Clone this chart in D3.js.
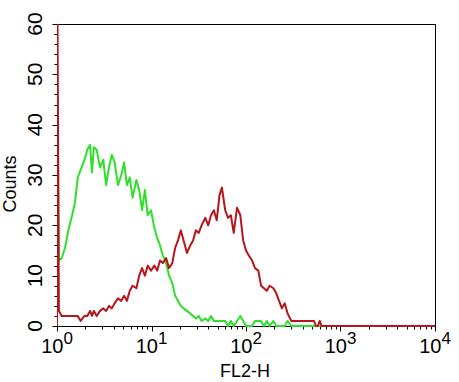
<!DOCTYPE html>
<html>
<head>
<meta charset="utf-8">
<script src="https://cdn.jsdelivr.net/npm/d3@7"></script>
<style>
  html, body { margin: 0; padding: 0; background: #fff; }
  svg { display: block; font-family: "Liberation Sans", Arial, sans-serif; }
</style>
</head>
<body>
<svg id="chart" width="459" height="382"></svg>
<script>
// FL2-H positions, in decades (log10 of FL2-H)
const fl2Decades = [0, 0.005, 0.02, 0.05, 0.085, 0.12, 0.16, 0.19, 0.22, 0.25, 0.29, 0.32, 0.35, 0.37, 0.39, 0.42,
  0.455, 0.49, 0.52, 0.55, 0.58, 0.61, 0.645, 0.68, 0.71, 0.74, 0.77, 0.80, 0.84, 0.87, 0.90, 0.93, 0.96, 0.995,
  1.03, 1.06, 1.09, 1.12, 1.155, 1.185, 1.22, 1.25, 1.28, 1.31, 1.34, 1.375, 1.41, 1.44, 1.47, 1.50, 1.53, 1.57,
  1.60, 1.63, 1.66, 1.69, 1.72, 1.745, 1.78, 1.81, 1.84, 1.87, 1.905, 1.94, 1.97, 2.00, 2.03, 2.065, 2.095, 2.13,
  2.16, 2.19, 2.22, 2.25, 2.29, 2.32, 2.35, 2.38, 2.41, 2.44, 2.48, 2.51, 2.54, 2.57, 2.60, 2.63, 2.66, 2.69, 2.72,
  2.74, 2.76, 2.78, 2.80, 2.82, 4.0];

// Stained sample (dark red)
const redCounts = [0, 62, 3, 2, 2, 2, 2, 2, 2, 1, 2, 2, 3, 2, 3, 2,
  3, 3.5, 3, 4, 3.5, 4.5, 5.5, 5, 6, 5, 7, 8, 7.5, 10, 11.5, 10, 12, 11,
  12, 11, 13, 12.5, 13.5, 11.5, 12.5, 15.5, 17, 19, 17, 14.5, 16, 17, 19, 18.5, 20, 21.5,
  20, 22, 23, 21, 26, 27.5, 23, 21.5, 22, 18.5, 23.5, 22, 17, 15, 14, 13, 11.5, 11,
  8, 7.5, 7, 8, 7.5, 6.5, 5, 3.5, 4.5, 2.5, 1, 1, 1, 1, 1, 1, 1, 1, 1,
  0, 0, 1, 0, 0, 0];

// Control (green)
const greenCounts = [0, 45, 13, 13.5, 15.5, 19, 22, 24.5, 29.5, 31, 33, 35, 36, 30.5, 35.5, 35,
  31.5, 33, 28, 31.5, 34, 32.5, 28, 30, 32.5, 28, 29.5, 25.5, 29, 27, 23, 27, 22, 23,
  19.5, 17.5, 16, 14, 12.5, 10, 8.5, 6, 5, 4, 3.5, 3, 2.5, 2, 1.5, 2, 1, 1.5,
  1, 2, 1, 1, 1, 1, 1, 0, 1, 0, 1, 2, 1, 0, 0, 0, 1, 1,
  1, 0, 1, 0, 1, 0, 0, 0, 0, 1, 0, 0, 0, 0, 0, 0, 0, 0, 0,
  0, 0, 0, 0, 0, 0];

const yTickValues = [0, 10, 20, 30, 40, 50, 60];
const xTickExponents = [0, 1, 2, 3, 4];
const xTitle = "FL2-H";
const yTitle = "Counts";

const svg = d3.select("#chart");
const pLeft = 57, pRight = 435, pTop = 24, pBottom = 326;

const x = d3.scaleLog().domain([1, 1e4]).range([pLeft, pRight]);
const y = d3.scaleLinear().domain([0, 60]).range([pBottom, pTop]);

svg.append("defs").append("clipPath").attr("id", "plotclip")
  .append("rect").attr("x", pLeft).attr("y", pTop).attr("width", pRight - pLeft).attr("height", pBottom - pTop + 2);

// Frame
svg.append("rect").attr("x", pLeft + 0.5).attr("y", pTop + 0.5)
  .attr("width", pRight - pLeft).attr("height", pBottom - pTop)
  .attr("fill", "none").attr("stroke", "#000").attr("stroke-width", 1);

// Y axis ticks
const yMinor = d3.range(0, 61, 2);
svg.append("g").selectAll("line").data(yMinor).join("line")
  .attr("x1", pLeft + 0.5).attr("x2", d => pLeft + 0.5 - (d % 10 === 0 ? 5 : 3))
  .attr("y1", d => Math.round(y(d)) + 0.5).attr("y2", d => Math.round(y(d)) + 0.5)
  .attr("stroke", "#000").attr("stroke-width", 1);

svg.append("g").selectAll("text").data(yTickValues).join("text")
  .attr("transform", d => `translate(42,${y(d)}) rotate(-90)`)
  .attr("text-anchor", "middle")
  .attr("font-size", 21)
  .attr("fill", "#000")
  .text(d => d);

// X axis ticks (log)
const xMinor = [];
for (let e = 0; e < 4; e++) for (let m = 1; m < 10; m++) xMinor.push(m * Math.pow(10, e));
xMinor.push(1e4);
svg.append("g").selectAll("line").data(xMinor).join("line")
  .attr("x1", d => Math.round(x(d)) + 0.5).attr("x2", d => Math.round(x(d)) + 0.5)
  .attr("y1", pBottom + 0.5)
  .attr("y2", d => pBottom + 0.5 + (Math.abs(Math.log10(d) - Math.round(Math.log10(d))) < 1e-9 ? 5 : 3))
  .attr("stroke", "#000").attr("stroke-width", 1);

const xl = svg.append("g").selectAll("text").data(xTickExponents).join("text")
  .attr("x", d => x(Math.pow(10, d)))
  .attr("y", 353)
  .attr("text-anchor", "middle")
  .attr("fill", "#000");
xl.append("tspan").attr("font-size", 20).text("10");
xl.append("tspan").attr("font-size", 17).attr("dy", -9).text(d => d);

// Titles
svg.append("text").attr("x", 245).attr("y", 377).attr("text-anchor", "middle")
  .attr("font-size", 18).attr("fill", "#000").text(xTitle);
svg.append("text").attr("transform", "translate(16,184) rotate(-90)").attr("text-anchor", "middle")
  .attr("font-size", 18).attr("fill", "#000").text(yTitle);

// Curves
const line = d3.line()
  .x((d, i) => x(Math.pow(10, fl2Decades[i])))
  .y(d => y(d))
  .curve(d3.curveLinear);

const plot = svg.append("g").attr("clip-path", "url(#plotclip)");
plot.append("path").datum(greenCounts).attr("d", line)
  .attr("fill", "none").attr("stroke", "#2ee02a").attr("stroke-width", 2).attr("stroke-linejoin", "round");
plot.append("path").datum(redCounts).attr("d", line)
  .attr("fill", "none").attr("stroke", "#b5161c").attr("stroke-width", 2).attr("stroke-linejoin", "round");
</script>
</body>
</html>
